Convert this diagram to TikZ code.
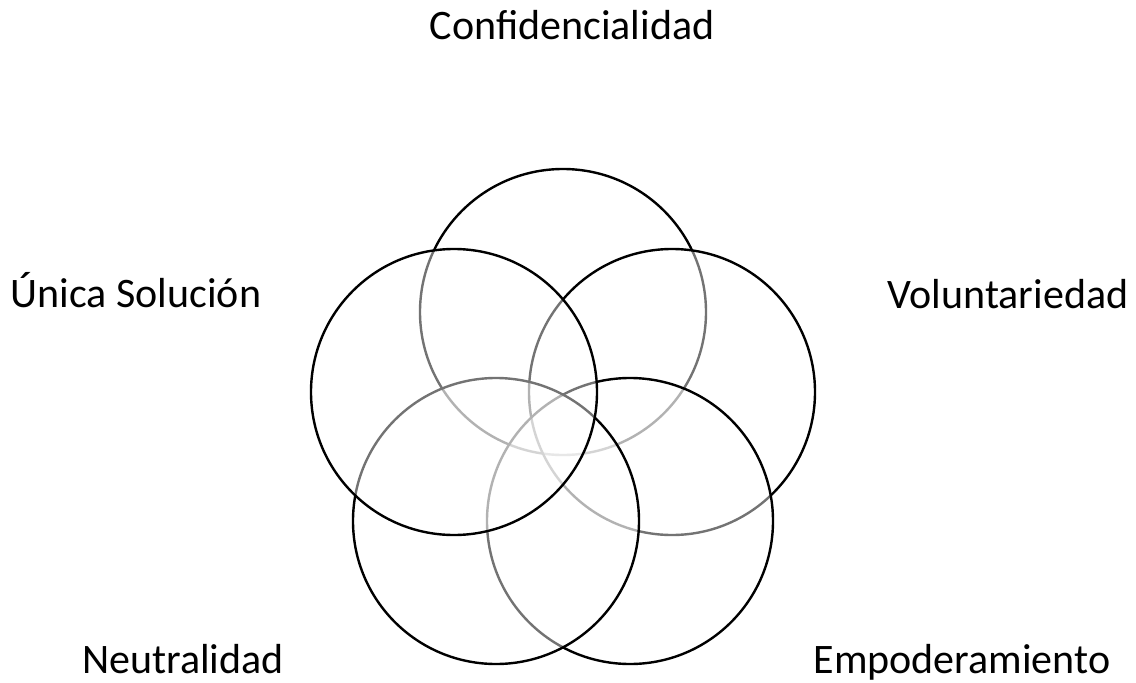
\documentclass[tikz,border=0pt]{standalone}
\usepackage{fontspec}
\setmainfont{Carlito}
\begin{document}
\begin{tikzpicture}[x=1pt,y=-1pt,
  ring/.style={draw=black,line width=2.4pt,fill=white,fill opacity=0.45},
  lbl/.style={anchor=base,inner sep=0pt,font=\fontsize{42}{48}\selectfont}]
\useasboundingbox (0,0) rectangle (1136,683);
\def\rr{143}
\coordinate (ct) at (563,312);
\coordinate (cr) at (672,392);
\coordinate (cbr) at (630,521);
\coordinate (cbl) at (496,521);
\coordinate (cl) at (454,392);
\foreach \c in {ct,cr,cbr,cbl,cl}{
  \path[ring] (\c) circle[radius=\rr];
}
\node[lbl] (conf) at (572,39) {Confidencialidad};
\node[lbl] (unica) at (136,307) {Única Solución};
\node[lbl] (vol) at (1008,308) {Voluntariedad};
\node[lbl] (neu) at (183,673) {Neutralidad};
\node[lbl] (emp) at (962,673) {Empoderamiento};
\end{tikzpicture}
\end{document}
